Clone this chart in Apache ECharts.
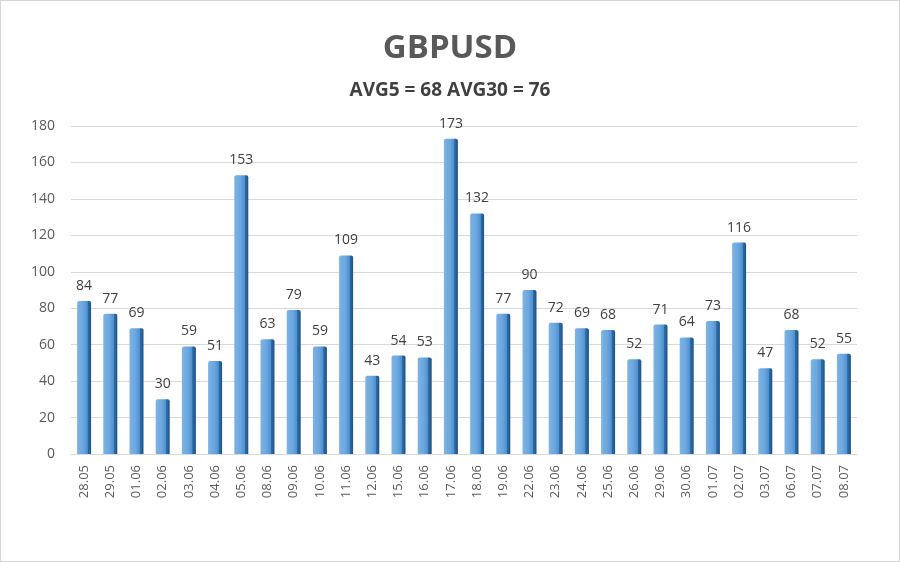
<!DOCTYPE html>
<html><head><meta charset="utf-8">
<script src="https://cdn.jsdelivr.net/npm/echarts@6/dist/echarts.min.js"></script>
<style>
html,body{margin:0;padding:0;background:#fff;}
#c{width:898px;height:560px;border:1px solid #d4d4d4;}
</style></head>
<body><div id="c"></div>
<script>
const categories = ['28.05','29.05','01.06','02.06','03.06','04.06','05.06','08.06','09.06','10.06','11.06','12.06','15.06','16.06','17.06','18.06','19.06','22.06','23.06','24.06','25.06','26.06','29.06','30.06','01.07','02.07','03.07','06.07','07.07','08.07'];
const values = [84,77,69,30,59,51,153,63,79,59,109,43,54,53,173,132,77,90,72,69,68,52,71,64,73,116,47,68,52,55];
const titleText = 'GBPUSD';
const subtitleText = 'AVG5 = 68 AVG30 = 76';

const chart = echarts.init(document.getElementById('c'));
chart.setOption({
  animation: false,
  title: [
    {text: titleText, left: 'center', top: 26, textStyle: {fontFamily: 'Open Sans', fontWeight: 'bold', fontSize: 33, color: '#595959'}},
    {text: subtitleText, left: 'center', top: 75, textStyle: {fontFamily: 'Open Sans', fontWeight: 'bold', fontSize: 19, color: '#404040'}}
  ],
  grid: {left: 70, right: 42, top: 125, bottom: 107},
  xAxis: {
    type: 'category', data: categories,
    axisLine: {lineStyle: {color: '#d9d9d9'}},
    axisTick: {show: false},
    axisLabel: {rotate: 90, color: '#595959', fontFamily: 'Open Sans', fontSize: 13, margin: 11, interval: 0}
  },
  yAxis: {
    type: 'value', min: 0, max: 180, interval: 20,
    axisLine: {show: false}, axisTick: {show: false},
    splitLine: {lineStyle: {color: '#d9d9d9', width: 1}},
    axisLabel: {color: '#595959', fontFamily: 'Open Sans', fontSize: 14, margin: 16}
  },
  series: [{
    type: 'bar', data: values, barWidth: 14,
    itemStyle: {
      color: new echarts.graphic.LinearGradient(0, 0, 1, 0, [
        {offset: 0, color: '#7fb3e3'},
        {offset: 0.45, color: '#6aa6de'},
        {offset: 0.74, color: '#4d8fcf'},
        {offset: 0.76, color: '#2f6ea8'},
        {offset: 1, color: '#1f5283'}
      ]),
      borderRadius: [2, 2, 0, 0]
    },
    label: {show: true, position: 'top', distance: 8, color: '#404040', fontFamily: 'Open Sans', fontSize: 14}
  }]
});
</script></body></html>
